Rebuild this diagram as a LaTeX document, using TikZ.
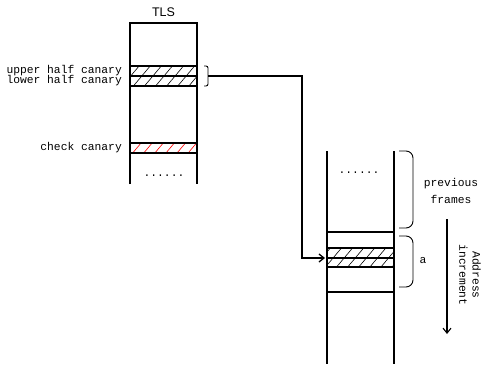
\documentclass[tikz,border=0pt]{standalone}
\usepackage{fontspec}
\setmainfont{Liberation Sans}
\newfontfamily\monofont{Liberation Mono}
\usetikzlibrary{patterns.meta,arrows.meta}
\begin{document}
\begin{tikzpicture}[x=1pt,y=-1pt,
  col/.style={line width=1.3pt},
  hatchblack/.style={line width=1.3pt,pattern={Lines[angle=50,distance=8.5pt,line width=0.6pt]}},
  hatchred/.style={line width=1.3pt,pattern={Lines[angle=50,distance=8.5pt,line width=0.6pt]},pattern color=red},
  lbl/.style={font=\monofont\fontsize{11.3}{11.3}\selectfont,inner sep=0pt},
  brace/.style={line width=0.9pt,rounded corners=5pt},
  conn/.style={line width=1.3pt}]
\useasboundingbox (0,0) rectangle (487,364);
% TLS column
\node[font=\fontsize{12.5}{12.5}\selectfont] (tls) at (163.5,12) {TLS};
\draw[col] (130,184) -- (130,23) -- (197,23) -- (197,184);
\draw[hatchblack] (130,66) rectangle (197,76);
\draw[hatchblack] (130,76) rectangle (197,86);
\draw[hatchred] (130,143) rectangle (197,153);
\node[lbl] (dots1) at (164,176) {......};
\node[lbl,anchor=east] (uh) at (122,71) {upper half canary};
\node[lbl,anchor=east] (lh) at (122,81) {lower half canary};
\node[lbl,anchor=east] (cc) at (122,148) {check canary};
% small bracket
\draw[brace,rounded corners=2pt] (204,66) -- (208,66) -- (208,86) -- (204,86);
\coordinate (bm) at (208,76);
% right column
\draw[col] (327,151) -- (327,364);
\draw[col] (394,151) -- (394,364);
\draw[col] (327,232) -- (394,232);
\draw[hatchblack] (327,248) rectangle (394,258);
\draw[hatchblack] (327,258) rectangle (394,267);
\draw[col] (327,292) -- (394,292);
\node[lbl] (dots2) at (359,173) {......};
\coordinate (tgt) at (325,258);
% connector
\coordinate (turn) at (302,76);
\draw[conn,-{Straight Barb[length=5pt,width=8pt]}] (bm) -- (turn) |- (tgt);
% braces right
\draw[brace,rounded corners=7pt] (399,151) -- (413,151) -- (413,228) -- (399,228);
\draw[brace,rounded corners=7pt] (399,236) -- (413,236) -- (413,287) -- (399,287);
\node[lbl,align=center] (pf) at (451,191) {previous\\[5pt]frames};
\node[lbl] (a) at (423,261) {a};
% address arrow
\coordinate (as) at (447,219);
\coordinate (ae) at (447,334);
\draw[line width=1.1pt,-{Straight Barb[length=5pt,width=8pt]}] (as) -- (ae);
\node[lbl,rotate=-90,align=center] (addr) at (470,275) {Address\\[2pt]increment};
\end{tikzpicture}
\end{document}
